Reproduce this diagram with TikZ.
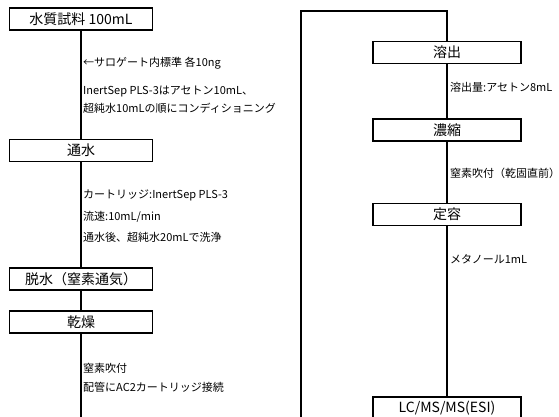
\documentclass[tikz,border=0pt]{standalone}
\usepackage{fontspec}
\setmainfont{Noto Sans CJK JP}
\begin{document}
\begin{tikzpicture}[x=1pt,y=-1pt,
  stepbox/.style={draw=black,line width=1.6pt,minimum height=22pt,inner sep=0pt,font=\fontsize{14}{16}\selectfont},
  lbox/.style={stepbox,minimum width=143pt},
  rbox/.style={stepbox,minimum width=148pt},
  note/.style={anchor=west,inner sep=0pt,font=\fontsize{11}{13}\selectfont},
  conn/.style={line width=1.6pt}]
\useasboundingbox (0,0) rectangle (559,416);
\clip (0,0) rectangle (559,416);
\fill[white] (0,0) rectangle (559,416);
% left column
\node[lbox] (b1) at (81,19) {水質試料 100mL};
\node[lbox] (b2) at (81,150.5) {通水};
\node[lbox] (b3) at (81,279) {脱水（窒素通気）};
\node[lbox] (b4) at (81,322) {乾燥};
\coordinate (lend) at (81,420);
% right column
\node[rbox] (r1) at (447,52.5) {溶出};
\node[rbox] (r2) at (447,130) {濃縮};
\node[rbox] (r3) at (447,214.5) {定容};
\node[rbox] (r4) at (447,408) {LC/MS/MS(ESI)};
\coordinate (rstart) at (301,420);
\coordinate (rtop) at (447,11);
% connectors
\draw[conn] (b1) -- (b2);
\draw[conn] (b2) -- (b3);
\draw[conn] (b3) -- (b4);
\draw[conn] (b4) -- (lend);
\draw[conn] (rstart) |- (rtop) -- (r1);
\draw[conn] (r1) -- (r2);
\draw[conn] (r2) -- (r3);
\draw[conn] (r3) -- (r4);
% notes
\node[note] (n1) at (83,63) {←サロゲート内標準 各10ng};
\node[note] (n2) at (83,91) {InertSep PLS-3はアセトン10mL、};
\node[note] (n3) at (83,108) {超純水10mLの順にコンディショニング};
\node[note] (n4) at (83,195) {カートリッジ:InertSep PLS-3};
\node[note] (n5) at (83,217) {流速:10mL/min};
\node[note] (n6) at (83,237) {通水後、超純水20mLで洗浄};
\node[note] (n7) at (83,368) {窒素吹付};
\node[note] (n8) at (83,387) {配管にAC2カートリッジ接続};
\node[note] (m1) at (450,87) {溶出量:アセトン8mL};
\node[note] (m2) at (450,173) {窒素吹付（乾固直前）};
\node[note] (m3) at (450,259) {メタノール1mL};
\end{tikzpicture}
\end{document}
